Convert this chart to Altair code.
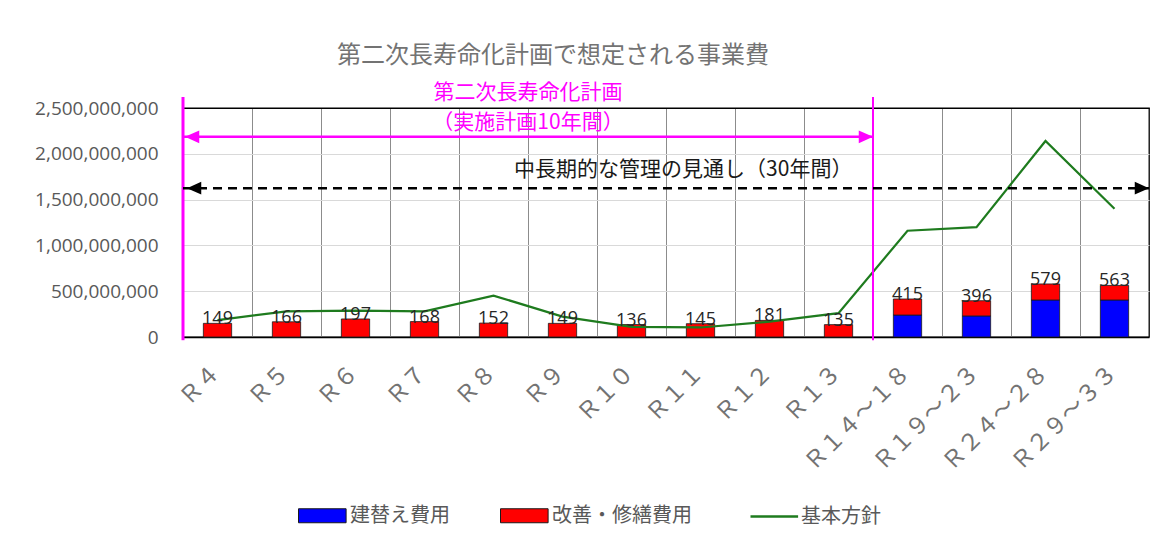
import altair as alt
import pandas as pd

# ---- data ----
cats = ["Ｒ４", "Ｒ５", "Ｒ６", "Ｒ７", "Ｒ８", "Ｒ９", "Ｒ１０", "Ｒ１１", "Ｒ１２", "Ｒ１３",
        "Ｒ１４～１８", "Ｒ１９～２３", "Ｒ２４～２８", "Ｒ２９～３３"]
replace_m = [0, 0, 0, 0, 0, 0, 0, 0, 0, 0, 240, 230, 404, 404]          # 建替え費用 (million yen)
repair_m = [149, 166, 197, 168, 152, 149, 136, 145, 181, 135, 175, 166, 175, 159]  # 改善・修繕費用
policy_m = [185, 280, 289, 280, 452, 222, 111, 104, 167, 260, 1160, 1200, 2140, 1400]  # 基本方針
series_names = ["建替え費用", "改善・修繕費用"]
series_colors = ["#0000FF", "#FF0000"]
line_name = "基本方針"
line_color = "#1E7B1E"
y_ticks = [0, 500000000, 1000000000, 1500000000, 2000000000, 2500000000]

title_text = "第二次長寿命化計画で想定される事業費"
plan_texts = ["第二次長寿命化計画", "（実施計画10年間）"]
plan_text_y = [2.66e9, 2.34e9]
outlook_text = "中長期的な管理の見通し（30年間）"
outlook_text_y = 1.824e9
plan_arrow_y = 2.185e9
outlook_arrow_y = 1.624e9
plan_rule_span = [2.62e9, -0.035e9]

FONT_JP = "Noto Sans CJK JP"
FONT_NUM = "Open Sans"
GRAY = "#595959"
LGRAY = "#737373"
MAG = "#FF00FF"

# ---- tables ----
bar_rows = []
for i, c in enumerate(cats):
    bar_rows.append({"cat": c, "series": series_names[0], "value": replace_m[i] * 1e6, "ord": 0})
    bar_rows.append({"cat": c, "series": series_names[1], "value": repair_m[i] * 1e6, "ord": 1})
bars_df = pd.DataFrame(bar_rows)
tot_df = pd.DataFrame({
    "cat": cats,
    "total": [(a + b) * 1e6 for a, b in zip(replace_m, repair_m)],
    "label": [str(a + b) for a, b in zip(replace_m, repair_m)],
})
line_df = pd.DataFrame({"cat": cats, "value": [v * 1e6 for v in policy_m], "name": line_name})

xscale = alt.Scale(domain=cats, paddingInner=0, paddingOuter=0)
xaxis = alt.Axis(title=None, labelAngle=-45, labelFont=FONT_JP, labelFontSize=23, labelColor=LGRAY,
                 grid=True, gridColor="#8c8c8c", gridWidth=1, bandPosition=0, ticks=False,
                 domainColor="#000000", domainWidth=1.5, labelPadding=24, labelOffset=-9)
yscale = alt.Scale(domain=[0, 2.5e9], nice=False)
yaxis = alt.Axis(title=None, values=y_ticks, format=",d", labelFont=FONT_NUM, labelFontSize=19,
                 labelColor=GRAY, ticks=False, domain=False, labelPadding=25,
                 gridColor=alt.condition("datum.value >= 2500000000", alt.value("#000000"), alt.value("#d9d9d9")))


def X(bp=None):
    if bp is None:
        return alt.X("cat:N", scale=xscale, axis=xaxis)
    return alt.X("cat:N", scale=xscale, axis=xaxis, bandPosition=bp)


def Y(field):
    return alt.Y(field, scale=yscale, axis=yaxis)


bars = alt.Chart(bars_df).mark_bar(
    width=alt.RelativeBandSize(0.41), stroke="#1a1a1a", strokeWidth=0.8
).encode(
    x=X(),
    y=alt.Y("value:Q", stack="zero", scale=yscale, axis=yaxis),
    color=alt.Color("series:N", scale=alt.Scale(domain=series_names, range=series_colors),
                    legend=alt.Legend(title=None, orient="none", legendX=115, legendY=393,
                                      direction="horizontal", symbolType="M-1,-0.5H2.4V0.5H-1Z",
                                      symbolSize=784, symbolStrokeColor="#1a1a1a", symbolStrokeWidth=1,
                                      labelFont=FONT_JP, labelFontSize=20, labelColor=GRAY,
                                      labelOffset=23, columnPadding=48, padding=0)),
    order=alt.Order("ord:Q"),
)

line = alt.Chart(line_df).mark_line(strokeWidth=2.2).encode(
    x=X(),
    y=Y("value:Q"),
    stroke=alt.Stroke("name:N", scale=alt.Scale(domain=[line_name], range=[line_color]),
                      legend=alt.Legend(title=None, orient="none", legendX=566, legendY=393,
                                        direction="horizontal", symbolType="M-1,0H2.4",
                                        symbolSize=784, symbolStrokeWidth=2.5,
                                        labelFont=FONT_JP, labelFontSize=20, labelColor=GRAY,
                                        labelOffset=21, padding=0)),
)

labels = alt.Chart(tot_df).mark_text(
    baseline="alphabetic", font=FONT_NUM, fontSize=18, color="#262626", dy=1
).encode(x=X(), y=Y("total:Q"), text="label:N")

# annotations
vr1 = alt.Chart(pd.DataFrame({"cat": [cats[0]], "y": [plan_rule_span[0]], "y2": [plan_rule_span[1]]})).mark_rule(
    color=MAG, strokeWidth=3).encode(x=X(0), y=Y("y:Q"), y2="y2:Q")
vr2 = alt.Chart(pd.DataFrame({"cat": [cats[10]], "y": [plan_rule_span[0]], "y2": [plan_rule_span[1]]})).mark_rule(
    color=MAG, strokeWidth=2).encode(x=X(0), y=Y("y:Q"), y2="y2:Q")

plan_arrow = alt.Chart(pd.DataFrame({"cat": [cats[0]], "cat2": [cats[10]], "y": [plan_arrow_y]})).mark_rule(
    color=MAG, strokeWidth=2.5).encode(x=X(0), x2=alt.X2("cat2:N", bandPosition=0), y=Y("y:Q"))
outlook_arrow = alt.Chart(pd.DataFrame({"cat": [cats[0]], "cat2": [cats[-1]], "y": [outlook_arrow_y]})).mark_rule(
    color="#000000", strokeWidth=2.5, strokeDash=[9, 6]).encode(
    x=X(0), x2=alt.X2("cat2:N", bandPosition=1), y=Y("y:Q"))

LEFT = "M0,0L1.9,-0.85L1.9,0.85Z"
RIGHT = "M0,0L-1.9,-0.85L-1.9,0.85Z"


def head(cat, y, bp, shape, color, xoff=0):
    return alt.Chart(pd.DataFrame({"cat": [cat], "y": [y]})).mark_point(
        shape=shape, size=225, filled=True, opacity=1, color=color, strokeWidth=0, xOffset=xoff
    ).encode(x=X(bp), y=Y("y:Q"))


heads = [
    head(cats[0], plan_arrow_y, 0, LEFT, MAG, 2),
    head(cats[10], plan_arrow_y, 0, RIGHT, MAG, 0),
    head(cats[0], outlook_arrow_y, 0, LEFT, "#000000", 4),
    head(cats[-1], outlook_arrow_y, 1, RIGHT, "#000000", 0),
]

plan_txt = alt.Chart(pd.DataFrame({"cat": [cats[5], cats[5]], "y": plan_text_y, "t": plan_texts})).mark_text(
    font=FONT_JP, fontSize=21, color=MAG, baseline="middle").encode(x=X(0), y=Y("y:Q"), text="t:N")
outlook_txt = alt.Chart(pd.DataFrame({"cat": [cats[7]], "y": [outlook_text_y], "t": [outlook_text]})).mark_text(
    font=FONT_JP, fontSize=21, color="#1a1a1a", baseline="middle").encode(x=X(0.25), y=Y("y:Q"), text="t:N")

chart = alt.layer(
    bars, line, labels, vr1, vr2, plan_arrow, outlook_arrow, *heads, plan_txt, outlook_txt
).properties(
    width=966, height=229,
    title=alt.TitleParams(text=title_text, font=FONT_JP, fontSize=24, color=LGRAY, fontWeight="normal",
                          anchor="middle", frame="group", offset=14, dx=-113),
    padding={"left": 183, "top": 108, "right": 18, "bottom": 210},
    autosize=alt.AutoSizeParams(type="none"),
).configure_view(stroke="#000000", strokeWidth=1.3)

chart.save("out.html", embed_options={"renderer": "svg", "actions": False})
